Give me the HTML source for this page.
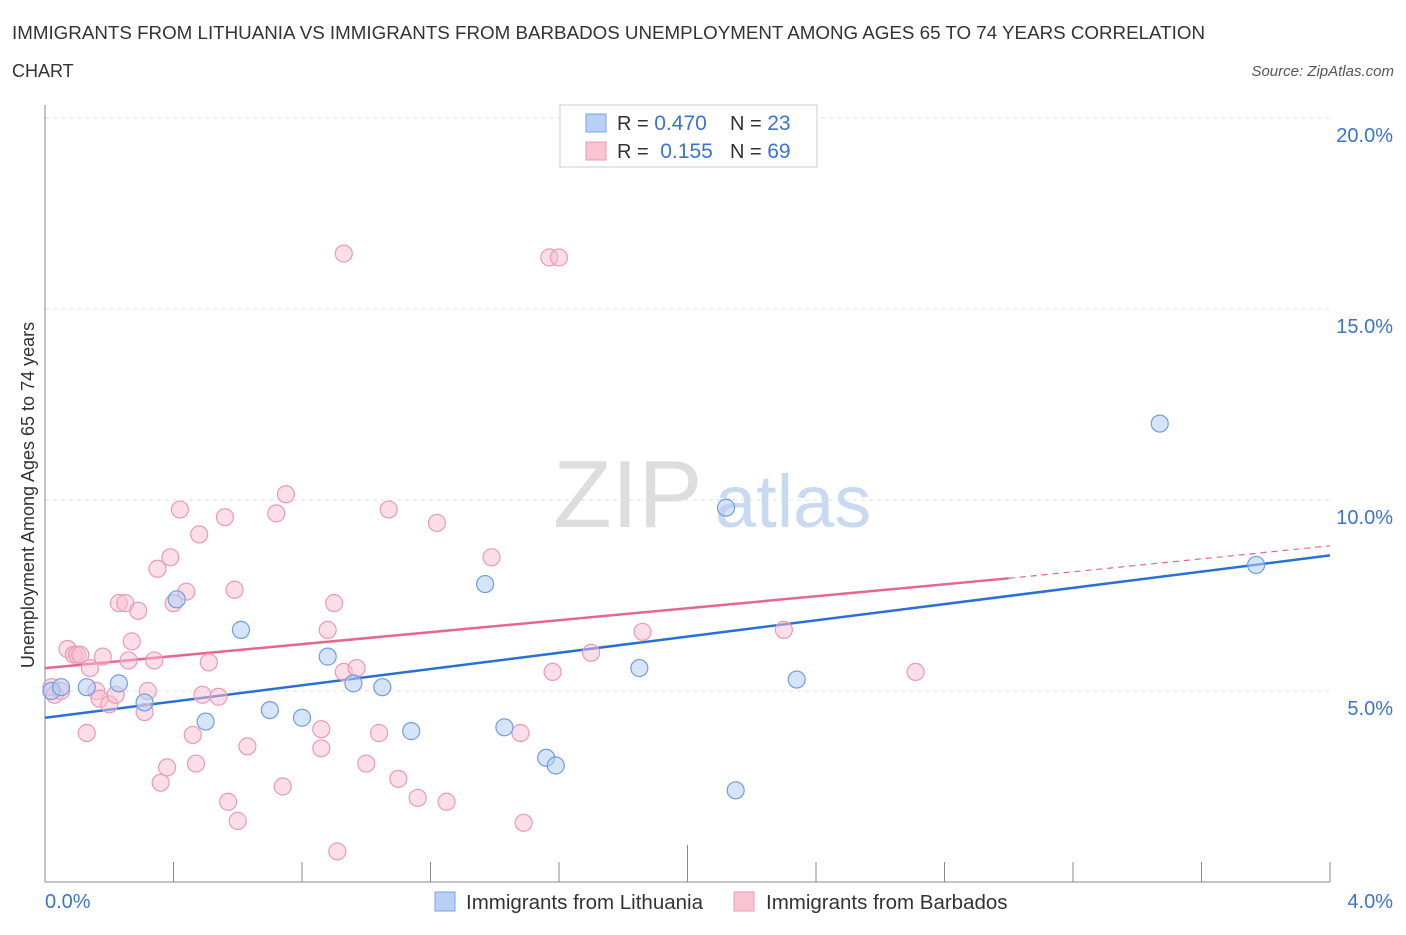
<!DOCTYPE html>
<html><head><meta charset="utf-8"><style>
body{margin:0;background:#fff;font-family:"Liberation Sans",sans-serif}
svg text{font-family:"Liberation Sans",sans-serif}
</style></head><body>
<svg id="chart" width="1406" height="930" xmlns="http://www.w3.org/2000/svg">
<text x="12" y="39" font-size="18" fill="#333" textLength="1193" lengthAdjust="spacingAndGlyphs">IMMIGRANTS FROM LITHUANIA VS IMMIGRANTS FROM BARBADOS UNEMPLOYMENT AMONG AGES 65 TO 74 YEARS CORRELATION</text>
<text x="12" y="77" font-size="18" fill="#333">CHART</text>
<text x="1394" y="76" font-size="15" fill="#555" font-style="italic" text-anchor="end">Source: ZipAtlas.com</text>
<g>
<text x="553" y="527" font-size="96" fill="#ddd" font-family="Liberation Serif,serif">ZIP</text>
<text x="715" y="527" font-size="74" fill="#c9daf0">atlas</text>
</g>
<g id="grid"></g><g id="axes"></g><g id="lines"></g><g id="pts"></g>
<g>
<rect x="560" y="105" width="257" height="62" fill="#fff" stroke="#ccc"/>
<rect x="586" y="114" width="20" height="18" fill="#b8d0f4" stroke="#7aa5e6"/>
<rect x="586" y="142" width="20" height="18" fill="#f8c4d4" stroke="#ec9ab5"/>
<text x="617" y="130" font-size="20" fill="#333">R = <tspan fill="#3b73d1" font-size="21">0.470</tspan></text>
<text x="730" y="130" font-size="20" fill="#333">N = <tspan fill="#3b73d1" font-size="21">23</tspan></text>
<text x="617" y="158" font-size="20" fill="#333">R = <tspan fill="#3b73d1" font-size="21" dx="6">0.155</tspan></text>
<text x="730" y="158" font-size="20" fill="#333">N = <tspan fill="#3b73d1" font-size="21">69</tspan></text>
</g>
<g>
<rect x="435" y="892" width="20" height="19" fill="#b8d0f4" stroke="#7aa5e6"/>
<text x="466" y="909" font-size="20.5" fill="#333">Immigrants from Lithuania</text>
<rect x="734" y="892" width="20" height="19" fill="#f8c4d4" stroke="#ec9ab5"/>
<text x="766" y="909" font-size="20.5" fill="#333">Immigrants from Barbados</text>
</g>
<text transform="translate(34,495) rotate(-90)" font-size="18" fill="#333" text-anchor="middle">Unemployment Among Ages 65 to 74 years</text>
</svg>
<script>
const yTicks=[5,10,15,20];
const yTickLabels=["5.0%","10.0%","15.0%","20.0%"];
const xTicks=[0,0.4,0.8,1.2,1.6,2.0,2.4,2.8,3.2,3.6,4.0];
const xEndLabels=["0.0%","4.0%"];
const lithX=[0.02,0.05,0.13,0.23,0.31,0.41,0.50,0.61,0.70,0.80,0.88,0.96,1.05,1.14,1.37,1.43,1.56,1.59,1.85,2.12,2.15,2.34,3.47,3.77];
const lithY=[5.0,5.1,5.1,5.2,4.7,7.4,4.2,6.6,4.5,4.3,5.9,5.2,5.1,3.95,7.8,4.05,3.25,3.05,5.6,9.8,2.4,5.3,12.0,8.3];
const barbX=[0.02,0.03,0.05,0.07,0.09,0.10,0.11,0.13,0.14,0.16,0.17,0.18,0.20,0.22,0.23,0.25,0.26,0.27,0.29,0.31,0.32,0.34,0.35,0.36,0.38,0.39,0.40,0.42,0.44,0.46,0.47,0.48,0.49,0.51,0.54,0.56,0.57,0.59,0.60,0.63,0.72,0.74,0.75,0.86,0.86,0.88,0.90,0.91,0.93,0.93,0.97,1.00,1.04,1.07,1.10,1.16,1.22,1.25,1.39,1.48,1.49,1.57,1.58,1.60,1.70,1.86,2.30,2.71];
const barbY=[5.1,4.9,5.0,6.1,5.95,5.95,5.95,3.9,5.6,5.0,4.8,5.9,4.65,4.9,7.3,7.3,5.8,6.3,7.1,4.45,5.0,5.8,8.2,2.6,3.0,8.5,7.3,9.75,7.6,3.85,3.1,9.1,4.9,5.75,4.85,9.55,2.1,7.65,1.6,3.55,9.65,2.5,10.15,3.5,4.0,6.6,7.3,0.8,16.45,5.5,5.6,3.1,3.9,9.75,2.7,2.2,9.4,2.1,8.5,3.9,1.55,16.35,5.5,16.35,6.0,6.55,6.6,5.5];
const lithTrend=[[0,4.3],[4.0,8.55]];
const barbTrend=[[0,5.6],[3.0,7.95],[4.0,8.8]];
const NS="http://www.w3.org/2000/svg";
const X=v=>45+v*321.25, Y=v=>882-v*38.2;
function mk(tag,attrs,parent){const e=document.createElementNS(NS,tag);for(const k in attrs)e.setAttribute(k,attrs[k]);document.getElementById(parent).appendChild(e);return e;}
yTicks.forEach((t,i)=>{
 const g=mk('line',{x1:45,x2:1330,y1:Y(t),y2:Y(t),stroke:'#ddd','stroke-dasharray':'4,4'},'grid');
 
 
 const l=mk('text',{x:1393,y:Y(t)+24,'font-size':20,fill:'#3b73d1','text-anchor':'end'},'grid');l.textContent=yTickLabels[i];
 
 
});
const topGrid=mk('line',{x1:45,x2:1330,y1:118,y2:118,stroke:'#ddd','stroke-dasharray':'4,4'},'grid');


const ya=mk('line',{x1:45,x2:45,y1:105,y2:882,stroke:'#888'},'axes');


const xa=mk('line',{x1:45,x2:1330,y1:882,y2:882,stroke:'#888'},'axes');


xTicks.forEach((t,i)=>{
 const tk=mk('line',{x1:X(t),x2:X(t),y1:(i==5?845:862),y2:882,stroke:'#888'},'axes');
 
 
});
const xl0=mk('text',{x:45,y:908,'font-size':20,fill:'#3b73d1'},'axes');xl0.textContent=xEndLabels[0];


const xl1=mk('text',{x:1393,y:908,'font-size':20,fill:'#3b73d1','text-anchor':'end'},'axes');xl1.textContent=xEndLabels[1];


const lt=mk('line',{x1:X(lithTrend[0][0]),y1:Y(lithTrend[0][1]),x2:X(lithTrend[1][0]),y2:Y(lithTrend[1][1]),stroke:'#2a6fd6','stroke-width':2.5},'lines');


const bt=mk('line',{x1:X(barbTrend[0][0]),y1:Y(barbTrend[0][1]),x2:X(barbTrend[1][0]),y2:Y(barbTrend[1][1]),stroke:'#e5668f','stroke-width':2.5},'lines');


const bd=mk('line',{x1:X(barbTrend[1][0]),y1:Y(barbTrend[1][1]),x2:X(barbTrend[2][0]),y2:Y(barbTrend[2][1]),stroke:'#e5668f','stroke-width':1.2,'stroke-dasharray':'6,5'},'lines');


barbX.forEach((x,i)=>{
 const c=mk('circle',{cx:X(x),cy:Y(barbY[i]),r:8.5,fill:'rgba(248,190,208,0.5)',stroke:'#eb9ab5','stroke-width':1.2},'pts');
 
 
});
lithX.forEach((x,i)=>{
 const c=mk('circle',{cx:X(x),cy:Y(lithY[i]),r:8.5,fill:'rgba(180,205,245,0.55)',stroke:'#6f9de3','stroke-width':1.2},'pts');
 
 
});
</script>
</body></html>
